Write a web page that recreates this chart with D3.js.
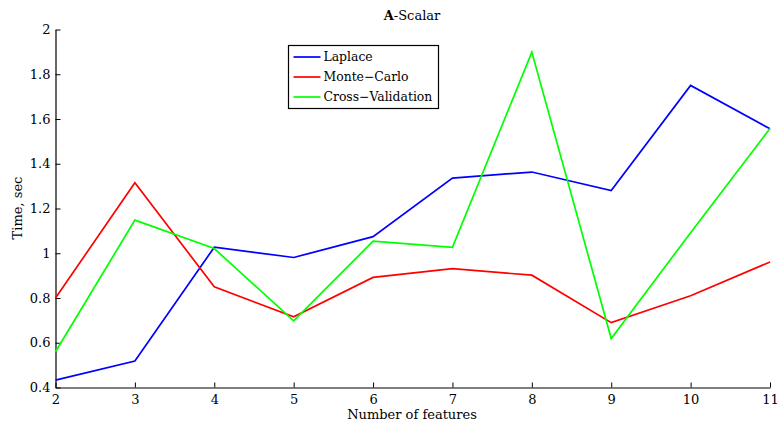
<!DOCTYPE html>
<html>
<head>
<meta charset="utf-8">
<script src="https://cdn.jsdelivr.net/npm/d3@7"></script>
<style>
  body { margin: 0; background: white; }
</style>
</head>
<body>
<div id="chart"></div>
<script>
// data
const features = [2, 3, 4, 5, 6, 7, 8, 9, 10, 11];
const laplace = [0.433, 0.518, 1.027, 0.981, 1.074, 1.336, 1.363, 1.28, 1.75, 1.556];
const monteCarlo = [0.80, 1.315, 0.85, 0.716, 0.892, 0.931, 0.902, 0.69, 0.81, 0.961];
const crossValidation = [0.56, 1.148, 1.021, 0.698, 1.054, 1.026, 1.899, 0.619, 1.092, 1.558];
const yTicks = [0.4, 0.6, 0.8, 1, 1.2, 1.4, 1.6, 1.8, 2];

const series = [
  { name: "Laplace", values: laplace, color: "#0000ff" },
  { name: "Monte\u2212Carlo", values: monteCarlo, color: "#ff0000" },
  { name: "Cross\u2212Validation", values: crossValidation, color: "#00ff00" }
];

const width = 779, height = 430;
const margin = { top: 29.5, right: 9, bottom: 42.5, left: 55.5 };
const serif = "'DejaVu Serif', serif";
const fs = 13;

const svg = d3.select("#chart").append("svg")
  .attr("width", width)
  .attr("height", height)
  .attr("font-family", serif);

const x = d3.scaleLinear().domain([2, 11]).range([margin.left, width - margin.right]);
const y = d3.scaleLinear().domain([0.4, 2]).range([height - margin.bottom, margin.top]);

// axes, ticks pointing inward like matlab
const xAxis = svg.append("g")
  .attr("transform", `translate(0,${height - margin.bottom})`)
  .call(d3.axisBottom(x).tickValues(features).tickSizeInner(-5).tickSizeOuter(0).tickPadding(7));
const yAxis = svg.append("g")
  .attr("transform", `translate(${margin.left},0)`)
  .call(d3.axisLeft(y).tickValues(yTicks).tickFormat(d3.format(".1~f")).tickSizeInner(-5).tickSizeOuter(0).tickPadding(5));

[xAxis, yAxis].forEach(g => {
  g.attr("font-family", serif).attr("font-size", fs);
  g.select(".domain").attr("stroke", "#000").attr("stroke-width", 1.2);
  g.selectAll(".tick line").attr("stroke", "#000").attr("stroke-width", 1);
  g.selectAll(".tick text").attr("fill", "#000");
});

// lines
const line = d3.line()
  .x((d, i) => x(features[i]))
  .y(d => y(d));

svg.append("g")
  .selectAll("path")
  .data(series)
  .join("path")
  .attr("fill", "none")
  .attr("stroke", d => d.color)
  .attr("stroke-width", 1.7)
  .attr("stroke-linejoin", "miter")
  .attr("d", d => line(d.values));

// title
const title = svg.append("text")
  .attr("x", 412)
  .attr("y", 20)
  .attr("text-anchor", "middle")
  .attr("font-size", fs);
title.append("tspan").attr("font-weight", "bold").text("A");
title.append("tspan").text("-Scalar");

// axis labels
svg.append("text")
  .attr("x", 412)
  .attr("y", 419)
  .attr("text-anchor", "middle")
  .attr("font-size", fs)
  .text("Number of features");

svg.append("text")
  .attr("transform", "translate(22,208) rotate(-90)")
  .attr("text-anchor", "middle")
  .attr("font-size", fs)
  .text("Time, sec");

// legend
const legend = svg.append("g").attr("transform", "translate(288.5,45.5)");
legend.append("rect")
  .attr("width", 150)
  .attr("height", 63)
  .attr("fill", "white")
  .attr("stroke", "#000")
  .attr("stroke-width", 1.2);

const item = legend.selectAll("g")
  .data(series)
  .join("g")
  .attr("transform", (d, i) => `translate(0,${11.5 + i * 20})`);
item.append("line")
  .attr("x1", 5).attr("x2", 32)
  .attr("stroke", d => d.color)
  .attr("stroke-width", 1.7);
item.append("text")
  .attr("x", 35)
  .attr("dy", "0.35em")
  .attr("font-size", 12.4)
  .text(d => d.name);
</script>
</body>
</html>
